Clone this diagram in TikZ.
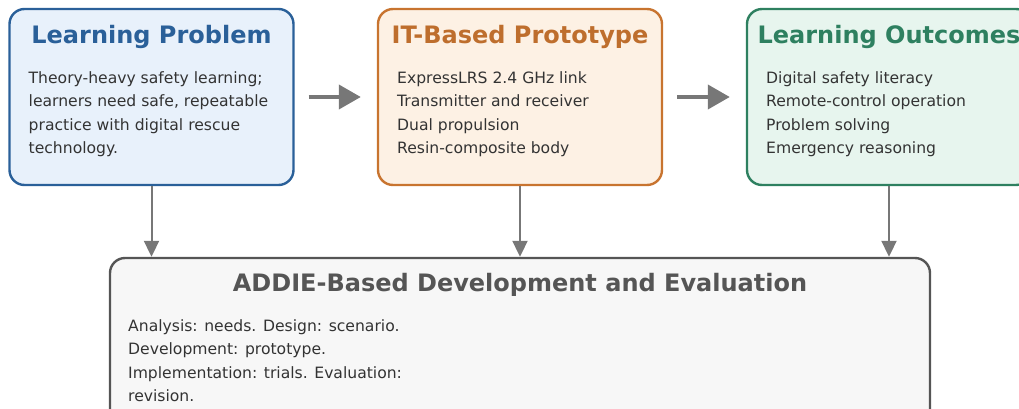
\documentclass[tikz,border=0pt]{standalone}
\usepackage{fontspec}
\setmainfont{DejaVu Sans}
\usetikzlibrary{arrows.meta,positioning}
\definecolor{probln}{HTML}{2A6099}
\definecolor{probfl}{HTML}{E8F1FB}
\definecolor{protln}{HTML}{C8742F}
\definecolor{protfl}{HTML}{FDF1E4}
\definecolor{outcln}{HTML}{2E8060}
\definecolor{outcfl}{HTML}{E7F5EE}
\definecolor{addiln}{HTML}{555555}
\definecolor{addifl}{HTML}{F7F7F7}
\definecolor{bodytx}{HTML}{333333}
\definecolor{arrgray}{HTML}{777777}
\tikzset{
  box/.style   ={draw, line width=1.2pt, rounded corners=7.5pt, minimum width=142pt, minimum height=88pt},
  ttl/.style   ={font=\fontsize{12}{14}\selectfont\bfseries, inner sep=0pt},
  body/.style  ={font=\fontsize{7.8}{11.75}\selectfont, align=left, text=bodytx, inner sep=0pt, anchor=north west},
  darr/.style  ={-{Triangle[length=8pt, width=7.5pt]}, line width=1pt, arrgray},
  harr/.style  ={-{Triangle[length=11pt, width=12pt]}, line width=2pt, arrgray, shorten <=7pt, shorten >=8pt},
}

\begin{document}
\begin{tikzpicture}[x=0.5pt, y=-0.5pt]
  \useasboundingbox (0,0) rectangle (1019,408);
  \clip (0,0) rectangle (1019,408);

  % top row
  \node[box, draw=probln, fill=probfl] (prob) at (151.5,97) {};
  \node[box, draw=protln, fill=protfl] (proto) at (520,97) {};
  \node[box, draw=outcln, fill=outcfl] (outc) at (889,97) {};

  \node[ttl, text=probln] (probt) at ([yshift=-14.5pt]prob.north) {Learning Problem};
  \node[ttl, text=protln!95!black] (protot) at ([yshift=-14.5pt]proto.north) {IT-Based Prototype};
  \node[ttl, text=outcln] (outct) at ([yshift=-14.5pt]outc.north) {Learning Outcomes};

  \node[body] (probb) at ([xshift=10pt, yshift=-31.5pt]prob.north west)
    {Theory-heavy safety learning;\\learners need safe, repeatable\\practice with digital rescue\\technology.};
  \node[body] (protob) at ([xshift=10pt, yshift=-31.5pt]proto.north west)
    {ExpressLRS 2.4 GHz link\\Transmitter and receiver\\Dual propulsion\\Resin-composite body};
  \node[body] (outcb) at ([xshift=10pt, yshift=-31.5pt]outc.north west)
    {Digital safety literacy\\Remote-control operation\\Problem solving\\Emergency reasoning};

  \draw[harr] (prob.east) -- (proto.west);
  \draw[harr] (proto.east) -- (outc.west);

  % bottom box
  \node[box, draw=addiln, fill=addifl, minimum width=410pt, minimum height=83.5pt] (addie) at (520,341.5) {};
  \node[ttl, text=addiln] (addiet) at ([yshift=-14pt]addie.north) {ADDIE-Based Development and Evaluation};
  \node[body] (addieb) at ([xshift=9.5pt, yshift=-31pt]addie.north west)
    {Analysis: needs. Design: scenario.\\Development: prototype.\\Implementation: trials. Evaluation:\\revision.};

  \draw[darr] (prob.south) -- (prob.south |- addie.north);
  \draw[darr] (proto.south) -- (proto.south |- addie.north);
  \draw[darr] (outc.south) -- (outc.south |- addie.north);
\end{tikzpicture}
\end{document}
